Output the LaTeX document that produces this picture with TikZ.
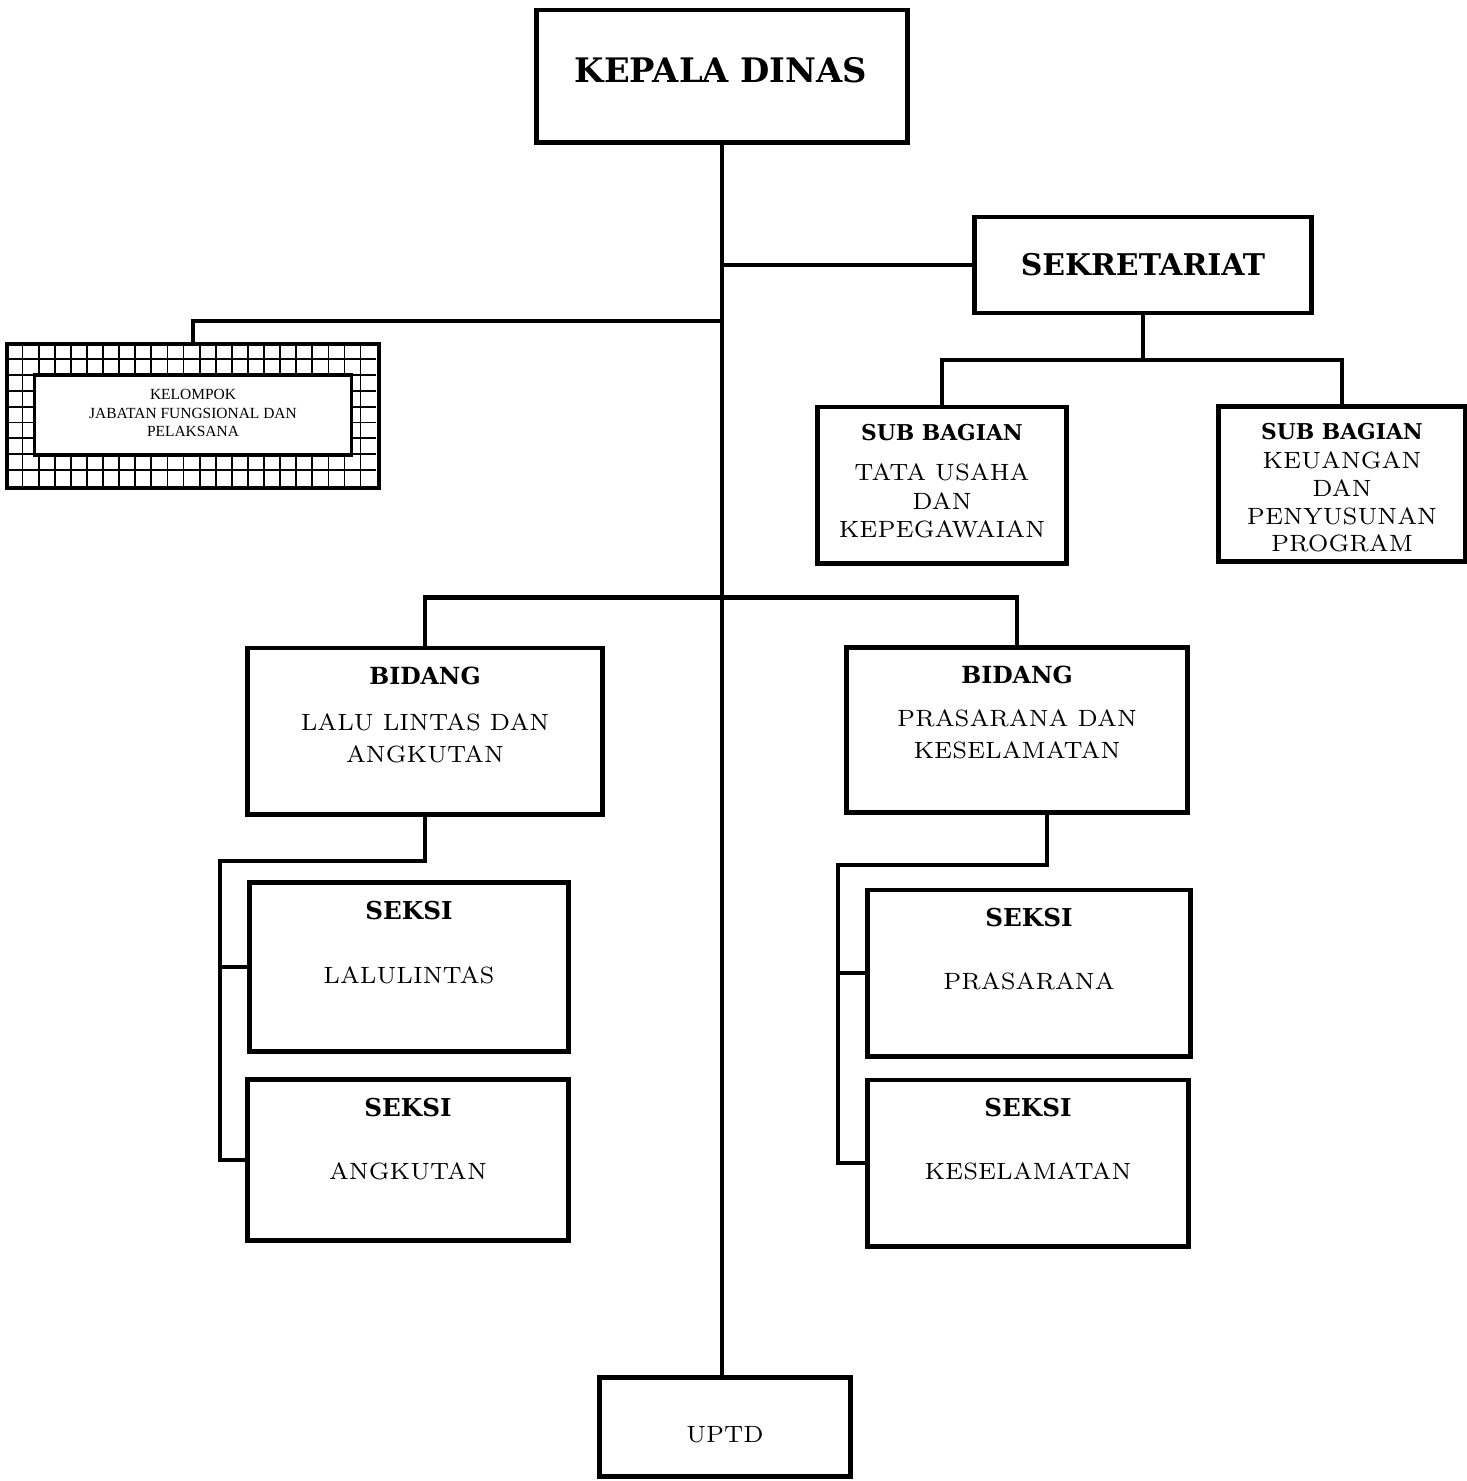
\documentclass[tikz,border=0pt]{standalone}
\usepackage{fontspec}
\newfontfamily\headfam{DejaVu Serif}
\newfontfamily\smallfam{Liberation Serif}
\usetikzlibrary{positioning}
\tikzstyle{box}   = [draw, rectangle, line width=1.4pt, inner sep=0pt, fill=white]
\tikzstyle{link}  = [line width=1.3pt]
\tikzstyle{head}  = [font=\headfam\bfseries\fontsize{7}{8.5}\selectfont, align=center, inner sep=0pt]
\tikzstyle{body}  = [font=\fontsize{6.7}{8.3}\selectfont, align=center, inner sep=0pt]
\tikzstyle{tiny}  = [font=\smallfam\fontsize{4.4}{5.2}\selectfont, align=center, inner sep=0pt]

\begin{document}
\begin{tikzpicture}[x=0.01cm, y=-0.01cm]
        \useasboundingbox[fill=white] (0,0) rectangle (1467,1481);

        % boxes
        \node[box, minimum width=3.70cm, minimum height=1.32cm] (kadis)  at (722,76) {};
        \node[box, minimum width=3.37cm, minimum height=0.96cm] (sekre)  at (1143,265) {};
        \node[box, line width=0.8pt, minimum width=3.70cm, minimum height=1.42cm] (kjf) at (193,416) {};
        \node[box, minimum width=2.49cm, minimum height=1.56cm] (subtu)  at (942,485) {};
        \node[box, minimum width=2.46cm, minimum height=1.55cm] (subku)  at (1342,484) {};
        \node[box, minimum width=3.54cm, minimum height=1.66cm] (bidlla) at (425,731) {};
        \node[box, minimum width=3.41cm, minimum height=1.65cm] (bidpk)  at (1017,730) {};
        \node[box, minimum width=3.18cm, minimum height=1.69cm] (seklal) at (409,967) {};
        \node[box, minimum width=3.21cm, minimum height=1.61cm] (sekang) at (408,1160) {};
        \node[box, minimum width=3.22cm, minimum height=1.66cm] (sekpra) at (1029,973) {};
        \node[box, minimum width=3.20cm, minimum height=1.66cm] (sekkes) at (1028,1163) {};
        \node[box, minimum width=2.50cm, minimum height=0.99cm] (uptd)   at (725,1427) {};

        % grid frame of the kelompok box
        \begin{scope}[shift={(kjf.north west)}]
            \draw[line width=0.5pt, xstep=0.16087cm, ystep=0.15778cm] (0,0) grid (370,142);
        \end{scope}
        \node[box, line width=0.9pt, minimum width=3.16cm, minimum height=0.80cm] (kjfin) at (193,415) {};
        \draw[line width=0.8pt] (kjf.north west) rectangle (kjf.south east);

        % texts
        \node[head, font=\headfam\bfseries\fontsize{9.6}{11}\selectfont] (tkadis) at (721,70) {KEPALA DINAS};
        \node[head, font=\headfam\bfseries\fontsize{8.5}{10}\selectfont] (tsekre) at (1143,265) {SEKRETARIAT};
        \node[tiny] (tkjf) at (193,413) {KELOMPOK\\JABATAN FUNGSIONAL DAN\\PELAKSANA};

        \node[head, font=\headfam\bfseries\fontsize{6.2}{8}\selectfont] (hsubtu) at (942,433) {SUB BAGIAN};
        \node[body, font=\fontsize{6.7}{8.1}\selectfont] (bsubtu) at (942,501) {TATA USAHA\\DAN\\KEPEGAWAIAN};
        \node[head, font=\headfam\bfseries\fontsize{6.2}{8}\selectfont] (hsubku) at (1342,432) {SUB BAGIAN};
        \node[body, font=\fontsize{6.7}{7.9}\selectfont] (bsubku) at (1342,502) {KEUANGAN\\DAN\\PENYUSUNAN\\PROGRAM};

        \node[head, font=\headfam\bfseries\fontsize{6.7}{8}\selectfont] (hbidlla) at (425,676) {BIDANG};
        \node[body, font=\fontsize{6.7}{9.1}\selectfont] (bbidlla) at (425,738) {LALU LINTAS DAN\\ANGKUTAN};
        \node[head, font=\headfam\bfseries\fontsize{6.7}{8}\selectfont] (hbidpk) at (1017,675) {BIDANG};
        \node[body, font=\fontsize{6.7}{9.1}\selectfont] (bbidpk) at (1017,734) {PRASARANA DAN\\KESELAMATAN};

        \node[head] (hseklal) at (409,911) {SEKSI};
        \node[body] (bseklal) at (409,975) {LALULINTAS};
        \node[head] (hsekang) at (408,1108) {SEKSI};
        \node[body] (bsekang) at (408,1171) {ANGKUTAN};
        \node[head] (hsekpra) at (1029,918) {SEKSI};
        \node[body] (bsekpra) at (1029,981) {PRASARANA};
        \node[head] (hsekkes) at (1028,1108) {SEKSI};
        \node[body] (bsekkes) at (1028,1171) {KESELAMATAN};
        \node[body] (tuptd) at (725,1435) {UPTD};

        % connectors
        \coordinate (kjfjoint) at (193,321);
        \coordinate (sekbus) at (1143,360);
        \coordinate (lrail) at (220,861);
        \coordinate (rjoint) at (1047,865);
        \coordinate (rrail) at (838,865);

        \draw[link] (kadis.south) -- (kadis.south |- uptd.north);
        \draw[link, line width=1pt] (kadis.south |- sekre.west) -- (sekre.west);
        \draw[link] (kadis.south |- kjfjoint) -- (kjfjoint) -- (kjf.north);

        \draw[link] (sekre.south) -- (sekbus);
        \draw[link] (subtu.north) |- (sekbus) -| (subku.north);

        \draw[link] (bidlla.north) -- ++(0,-48) -| (bidpk.north);

        \draw[link] (bidlla.south) |- (lrail) -- (lrail |- sekang.west) -- (sekang.west);
        \draw[link] (lrail |- seklal.west) -- (seklal.west);

        \draw[link] (rjoint |- bidpk.south) -- (rjoint) -- (rrail) -- (rrail |- sekkes.west) -- (sekkes.west);
        \draw[link] (rrail |- sekpra.west) -- (sekpra.west);
    \end{tikzpicture}
\end{document}
